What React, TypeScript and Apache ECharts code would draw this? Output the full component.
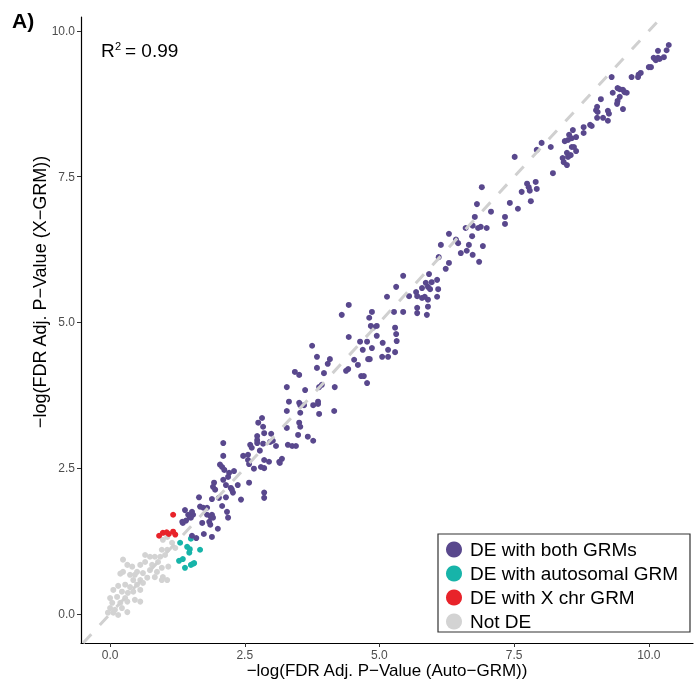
import React, { useEffect, useRef } from "react";
import * as echarts from "echarts";

const seriesNames = ["DE with both GRMs", "DE with autosomal GRM", "DE with X chr GRM", "Not DE"];
const seriesColors = ["#59488D", "#17B4A9", "#E8232A", "#D3D3D3"];
const tickValues = [0, 2.5, 5, 7.5, 10];
const rSquared = "0.99";

const bothGRMs: number[][] = [
  [10.37,9.76],[10.33,9.67],[10.17,9.66],[10.09,9.54],[10.17,9.54],[10.2,9.52],[10.28,9.55],[10.13,9.5],[10.0,9.38],[10.04,9.38],
  [9.85,9.28],[9.81,9.25],[9.8,9.21],[9.68,9.21],[9.31,9.21],[9.42,9.02],[9.46,9.0],[9.52,8.99],[9.55,8.95],[9.59,8.94],
  [9.33,8.94],[9.46,8.87],[9.11,8.83],[9.42,8.8],[9.41,8.75],[9.04,8.7],[9.02,8.64],[9.05,8.61],[9.24,8.63],[9.26,8.58],
  [9.52,8.66],[9.04,8.51],[9.15,8.51],[9.24,8.46],[8.91,8.39],[8.94,8.37],[8.79,8.35],[8.79,8.25],[8.59,8.3],[8.52,8.22],
  [8.65,8.18],[8.44,8.11],[8.5,8.13],[8.57,8.16],[8.57,8.01],[8.65,7.94],[8.48,7.91],[8.4,7.82],[8.5,7.84],[8.55,7.87],
  [8.42,7.75],[8.48,7.7],[8.61,8.01],[8.18,8.01],[8.01,8.08],[7.92,7.96],[7.51,7.84],[8.22,7.56],[7.74,7.38],[7.77,7.32],
  [7.79,7.26],[7.9,7.41],[7.92,7.29],[7.64,7.24],[7.81,7.08],[7.42,7.05],[7.57,6.95],[7.07,6.9],[7.33,6.81],[6.9,7.32],
  [6.81,7.03],[6.77,6.81],[6.6,6.62],[6.73,6.66],[6.83,6.62],[6.88,6.64],[6.99,6.62],[6.72,6.48],[6.29,6.52],[6.14,6.33],
  [6.46,6.36],[6.92,6.31],[6.66,6.33],[6.62,6.23],[6.51,6.19],[6.73,6.16],[7.33,6.69],[6.42,6.42],[6.85,6.04],[6.1,6.12],
  [6.29,6.02],[6.23,5.92],[5.44,5.8],[5.31,5.61],[5.14,5.44],[5.92,5.83],[6.07,5.73],[5.97,5.69],[5.86,5.68],[5.9,5.61],
  [5.79,5.59],[5.94,5.57],[6.09,5.57],[6.07,5.44],[5.84,5.44],[5.9,5.39],[5.68,5.52],[5.7,5.45],[5.55,5.45],[5.79,5.42],
  [5.9,5.27],[5.7,5.25],[5.7,5.16],[5.88,5.13],[5.27,5.18],[5.44,5.18],[4.86,5.18],[4.81,5.08],[4.84,4.94],[4.95,4.94],
  [4.88,4.91],[4.95,4.77],[4.77,4.67],[5.06,4.65],[4.86,4.56],[4.69,4.53],[5.29,4.91],[5.31,4.8],[5.32,4.68],[5.16,4.53],
  [4.43,5.3],[4.3,5.13],[4.43,4.75],[4.64,4.67],[5.29,4.49],[5.16,4.41],[5.05,4.41],[4.79,4.37],[4.82,4.37],[4.53,4.36],
  [4.6,4.27],[4.42,4.2],[4.38,4.17],[4.66,4.08],[4.71,4.08],[4.77,3.96],[3.75,4.6],[3.84,4.41],[4.08,4.37],[4.04,4.29],
  [3.84,4.22],[3.97,4.13],[3.43,4.15],[3.51,4.1],[3.28,3.89],[3.62,3.84],[3.88,3.89],[3.93,3.93],[4.17,3.89],[3.32,3.64],
  [3.51,3.62],[3.53,3.58],[3.6,3.58],[3.77,3.58],[3.86,3.64],[3.86,3.6],[3.28,3.48],[3.53,3.45],[3.88,3.43],[4.16,3.48],
  [2.82,3.36],[2.75,3.28],[2.84,3.21],[2.86,3.1],[2.73,3.05],[2.73,2.98],[2.99,3.09],[3.28,3.19],[3.51,3.28],[3.53,3.21],
  [3.49,3.07],[3.67,3.04],[3.77,2.97],[2.97,2.95],[3.02,2.97],[3.08,2.88],[2.6,2.9],[2.63,2.85],[2.84,2.92],[2.73,2.93],
  [3.3,2.9],[3.38,2.88],[3.45,2.88],[2.78,2.8],[2.1,2.93],[2.1,2.71],[2.47,2.71],[2.56,2.73],[2.56,2.64],[2.86,2.64],
  [3.19,2.66],[2.95,2.61],[2.86,2.5],[2.8,2.52],[2.67,2.49],[2.58,2.57],[3.14,2.61],[3.15,2.59],[2.04,2.56],[2.08,2.52],
  [2.12,2.47],[2.21,2.42],[2.19,2.35],[2.3,2.45],[2.1,2.3],[1.93,2.25],[1.91,2.18],[1.95,2.13],[2.58,2.25],[2.15,2.21],
  [2.24,2.16],[2.28,2.08],[2.26,2.13],[2.37,2.21],[2.15,2.0],[2.43,1.96],[1.89,1.97],[2.02,1.99],[2.86,2.08],[2.86,1.99],
  [1.65,2.0],[2.08,1.85],[2.17,1.75],[2.19,1.65],[1.67,1.84],[1.73,1.82],[1.8,1.82],[1.39,1.78],[1.52,1.75],[1.45,1.7],
  [1.54,1.7],[1.48,1.66],[1.41,1.6],[1.5,1.65],[1.34,1.58],[1.89,1.7],[1.87,1.66],[1.91,1.65],[1.84,1.58],[1.71,1.56],
  [1.86,1.53],[2.0,1.46],[1.35,1.56],[1.52,1.34],[1.6,1.3],[1.74,1.37],[1.8,1.7],[1.89,1.32]
];

const autosomalGRM: number[][] = [
  [1.3,1.22],[1.5,1.29],[1.43,1.15],[1.48,1.11],[1.47,1.05],[1.67,1.1],[1.28,0.91],[1.35,0.94],[1.39,0.79],[1.5,0.84],[1.56,0.87],[1.54,0.86]
];

const xChrGRM: number[][] = [
  [1.17,1.7],[0.91,1.34],[0.98,1.39],[1.09,1.37],[1.17,1.41],[1.21,1.36],[1.05,1.4]
];

const notDE: number[][] = [
  [0.98,1.27],[1.06,1.32],[1.15,1.22],[0.96,1.1],[1.06,1.1],[1.21,1.13],[0.65,1.01],[0.74,0.98],[0.83,0.98],[0.93,0.98],
  [1.02,1.01],[0.24,0.93],[0.41,0.81],[0.56,0.84],[0.65,0.89],[0.78,0.84],[0.89,0.89],[0.96,0.79],[1.08,0.81],[0.5,0.72],
  [0.61,0.7],[0.74,0.75],[0.87,0.72],[0.37,0.67],[0.24,0.72],[0.19,0.69],[0.43,0.58],[0.56,0.58],[0.69,0.62],[0.83,0.63],
  [0.98,0.63],[1.06,0.58],[0.15,0.48],[0.28,0.5],[0.37,0.46],[0.5,0.5],[0.61,0.53],[0.96,0.58],[0.06,0.41],[0.22,0.38],
  [0.33,0.36],[0.43,0.38],[0.56,0.41],[0.28,0.27],[0.0,0.27],[0.13,0.29],[0.04,0.19],[0.19,0.19],[0.32,0.21],[0.46,0.24],
  [0.56,0.21],[0.0,0.1],[0.09,0.07],[0.22,0.1],[0.32,0.03],[-0.04,0.02],[0.06,0.02],[0.15,-0.02],[0.46,0.67],[0.32,0.84]
];

const identityLine: number[][] = [[-0.5, -0.5], [10.24, 10.24]];

const FONT = "'Liberation Sans', Arial, Helvetica, sans-serif";

export default function App() {
  const ref = useRef<HTMLDivElement>(null);
  useEffect(() => {
    if (!ref.current) return;
    const chart = echarts.init(ref.current, undefined, { renderer: "svg" });
    const dataSets = [bothGRMs, autosomalGRM, xChrGRM, notDE];
    const scatterSeries = [3, 1, 2, 0].map((i) => ({
      name: seriesNames[i],
      type: "scatter",
      data: dataSets[i],
      symbol: "circle",
      symbolSize: 6,
      itemStyle: { color: seriesColors[i], opacity: 1 },
      emphasis: { disabled: true },
    }));
    chart.setOption({
      animation: false,
      textStyle: { fontFamily: FONT },
      grid: { left: 81, right: 1, top: 17, bottom: 44, containLabel: false },
      xAxis: {
        type: "value",
        min: -0.54,
        max: 10.82,
        splitLine: { show: false },
        axisLine: { show: true, onZero: false, lineStyle: { color: "#000", width: 1.2 } },
        axisTick: { show: true, length: 4, customValues: tickValues, lineStyle: { color: "#333", width: 1 } },
        axisLabel: {
          customValues: tickValues,
          formatter: (v: number) => v.toFixed(1),
          color: "#4D4D4D",
          fontSize: 12,
          margin: 6,
          fontFamily: FONT,
        },
      },
      yAxis: {
        type: "value",
        min: -0.5,
        max: 10.24,
        splitLine: { show: false },
        axisLine: { show: true, onZero: false, lineStyle: { color: "#000", width: 1.2 } },
        axisTick: { show: true, length: 4, customValues: tickValues, lineStyle: { color: "#333", width: 1 } },
        axisLabel: {
          customValues: tickValues,
          formatter: (v: number) => v.toFixed(1),
          color: "#4D4D4D",
          fontSize: 12,
          margin: 6,
          fontFamily: FONT,
        },
      },
      legend: {
        data: seriesNames,
        orient: "vertical",
        left: 446,
        top: 540,
        padding: 0,
        itemGap: 5,
        itemWidth: 16,
        itemHeight: 16,
        icon: "circle",
        textStyle: { fontSize: 19, color: "#000", fontFamily: FONT, padding: [0, 0, 0, 3] },
        selectedMode: false,
      },
      graphic: [
        {
          type: "rect",
          shape: { x: 438, y: 534, width: 252, height: 98 },
          style: { fill: "none", stroke: "#333", lineWidth: 1.2 },
          z: 10,
          silent: true,
        },
        {
          type: "text",
          x: 12,
          y: 20,
          style: { text: "A)", fontSize: 21, fontWeight: "bold", fill: "#000", fontFamily: FONT, verticalAlign: "middle", align: "left" },
        },
        {
          type: "text",
          x: 101,
          y: 50,
          style: { text: "R", fontSize: 19, fill: "#000", fontFamily: FONT, verticalAlign: "middle", align: "left" },
        },
        {
          type: "text",
          x: 115,
          y: 40,
          style: { text: "2", fontSize: 11, fill: "#000", fontFamily: FONT, verticalAlign: "top", align: "left" },
        },
        {
          type: "text",
          x: 125,
          y: 50,
          style: { text: "= " + rSquared, fontSize: 19, fill: "#000", fontFamily: FONT, verticalAlign: "middle", align: "left" },
        },
        {
          type: "text",
          x: 387,
          y: 670,
          style: { text: "\u2212log(FDR Adj. P\u2212Value (Auto\u2212GRM))", fontSize: 17, fill: "#000", fontFamily: FONT, verticalAlign: "middle", align: "center" },
        },
        {
          type: "text",
          x: 40,
          y: 292,
          rotation: Math.PI / 2,
          style: { text: "\u2212log(FDR Adj. P\u2212Value (X\u2212GRM))", fontSize: 18, fill: "#000", fontFamily: FONT, verticalAlign: "middle", align: "center" },
        },
      ],
      series: [
        ...scatterSeries,
        {
          name: "identity",
          type: "line",
          data: identityLine,
          symbol: "none",
          silent: true,
          lineStyle: { color: "#D0D0D0", width: 3, type: [12, 12.5] },
          z: 3,
        },
      ],
    });
    return () => chart.dispose();
  }, []);
  return <div ref={ref} style={{ position: "fixed", left: 0, top: 0, width: 694, height: 687 }} />;
}
